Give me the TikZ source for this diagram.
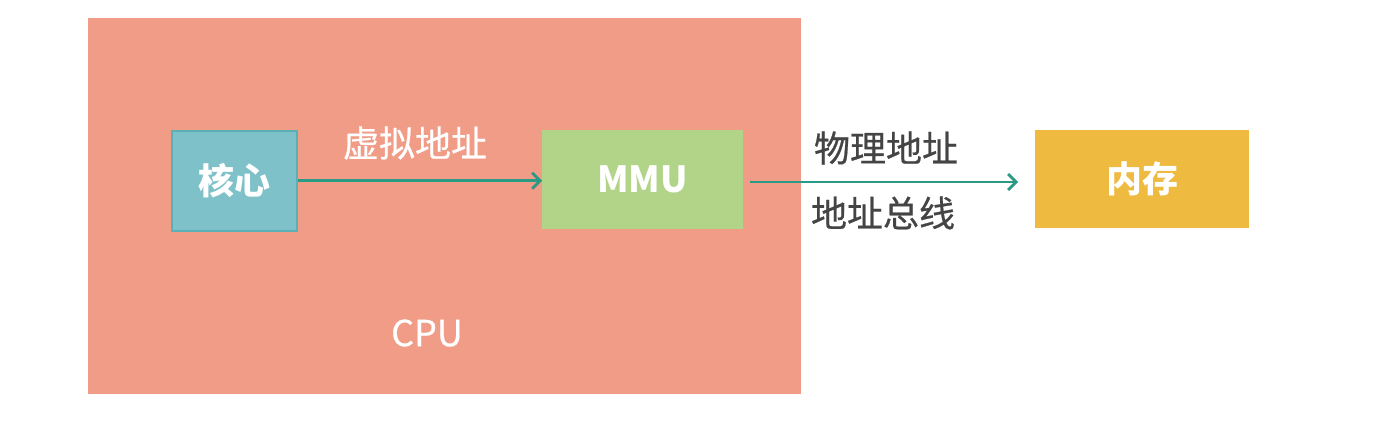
\documentclass[tikz,border=0pt]{standalone}
\usepackage{fontspec}
\setmainfont{Noto Sans CJK SC}
\newfontfamily\medfont{Noto Sans CJK SC}[FakeBold=0.6]
\usetikzlibrary{arrows.meta}
\definecolor{cpuc}{HTML}{F09C87}
\definecolor{corec}{HTML}{7FC1C8}
\definecolor{coreb}{HTML}{5BB0B6}
\definecolor{mmuc}{HTML}{B2D489}
\definecolor{memc}{HTML}{EEBA3F}
\definecolor{arrc}{HTML}{2A9A85}
\definecolor{txtc}{HTML}{444444}
\tikzset{
  box/.style={inner sep=0pt, anchor=north west, font=\fontsize{36}{40}\selectfont\bfseries, text=white},
  conn/.style={draw=arrc, line width=2.8pt, -{Straight Barb[length=8pt,width=16pt,line width=2.8pt]}},
  lbl/.style={font=\fontsize{36}{40}\selectfont\medfont},
}
\begin{document}
\begin{tikzpicture}[x=1pt,y=-1pt]
\useasboundingbox (0,0) rectangle (1398,426);
\fill[white] (0,0) rectangle (1398,426);
\node[box, fill=cpuc, minimum width=713pt, minimum height=376pt] (cpu) at (88,18) {};
\node[box, fill=corec, draw=coreb, line width=1.5pt, minimum width=125pt, minimum height=100pt] (core) at (171,130) {核心};
\node[box, fill=mmuc, minimum width=201pt, minimum height=99pt] (mmu) at (542,130) {MMU};
\node[box, fill=memc, minimum width=214pt, minimum height=98pt] (mem) at (1035,130) {内存};
\node[lbl, text=white] (cpulbl) at (427,333) {CPU};
\coordinate (a2s) at (750,182);
\coordinate (a2e) at (1018,182);
\draw[conn] (core.east) -- (mmu.west |- core.east);
\draw[conn] (a2s) -- (a2e);
\node[lbl, text=white] (v) at (415,143) {虚拟地址};
\node[lbl, text=txtc] (p) at (886,148) {物理地址};
\node[lbl, text=txtc] (b) at (883,213) {地址总线};
\end{tikzpicture}
\end{document}
